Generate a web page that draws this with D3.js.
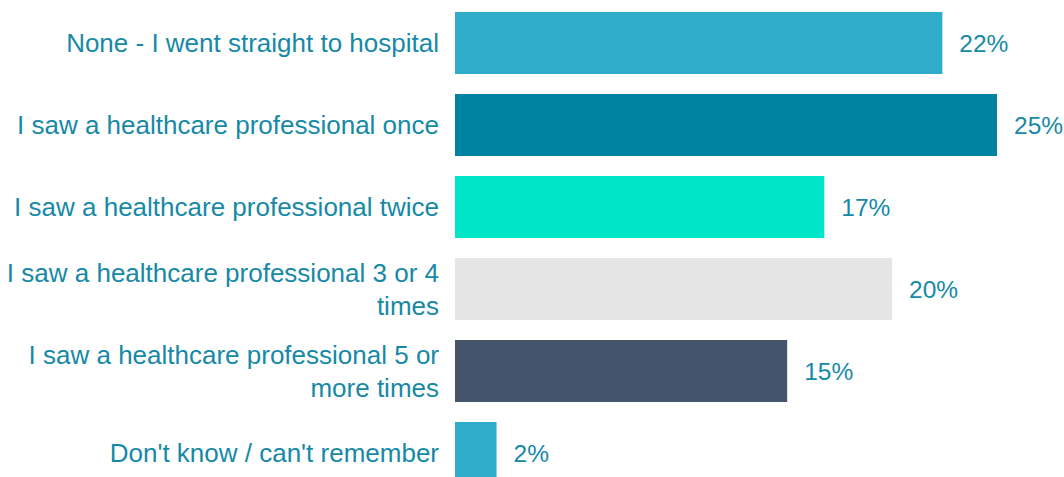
<!DOCTYPE html>
<html>
<head>
<meta charset="utf-8">
<script src="https://cdn.jsdelivr.net/npm/d3@7"></script>
<style>
  html, body { margin: 0; padding: 0; background: #fff; }
  svg { display: block; font-family: "Liberation Sans", Arial, sans-serif; }
</style>
</head>
<body>
<svg id="chart" width="1064" height="477"></svg>
<script>
const categories = [
  "None - I went straight to hospital",
  "I saw a healthcare professional once",
  "I saw a healthcare professional twice",
  "I saw a healthcare professional 3 or 4 times",
  "I saw a healthcare professional 5 or more times",
  "Don't know / can't remember"
];
const values = [22.3, 24.8, 16.9, 20.0, 15.2, 1.9];
const colors = ["#2eacc9", "#0083a3", "#00e5c8", "#e5e5e5", "#44546a", "#2eacc9"];

const W = 1064, H = 477;
const svg = d3.select("#chart");
const textColor = "#1689a7";

const x = d3.scaleLinear().domain([0, 24.8]).range([455, 997]);
const y = d3.scaleBand().domain(categories).range([2, 494])
  .paddingInner(20/82).paddingOuter(10/82);

const data = categories.map((c, i) => ({c, v: values[i], color: colors[i]}));

svg.selectAll("rect.bar").data(data).join("rect")
  .attr("class", "bar")
  .attr("x", x(0))
  .attr("y", d => y(d.c))
  .attr("width", d => x(d.v) - x(0))
  .attr("height", y.bandwidth())
  .attr("fill", d => d.color);

// value labels
svg.selectAll("text.val").data(data).join("text")
  .attr("class", "val")
  .attr("x", d => x(d.v) + 17)
  .attr("y", d => y(d.c) + y.bandwidth() / 2)
  .attr("dy", "0.36em")
  .attr("fill", textColor)
  .style("font-size", "24.5px")
  .text(d => Math.round(d.v) + "%");

// category labels with wrapping
const maxW = 442;
const lineH = 33;
const labels = svg.selectAll("text.cat").data(data).join("text")
  .attr("class", "cat")
  .attr("text-anchor", "end")
  .attr("fill", textColor)
  .style("font-size", "26px");

labels.each(function(d) {
  const t = d3.select(this);
  const words = d.c.split(" ");
  const lines = [];
  let cur = [];
  const probe = t.append("tspan");
  words.forEach(w => {
    const test = cur.concat([w]).join(" ");
    probe.text(test);
    if (probe.node().getComputedTextLength() > maxW && cur.length) {
      lines.push(cur.join(" "));
      cur = [w];
    } else {
      cur.push(w);
    }
  });
  if (cur.length) lines.push(cur.join(" "));
  probe.remove();
  const cy = y(d.c) + y.bandwidth() / 2;
  const first = cy - (lines.length - 1) * lineH / 2;
  lines.forEach((ln, i) => {
    t.append("tspan")
      .attr("x", 439)
      .attr("y", first + i * lineH)
      .attr("dy", "0.36em")
      .text(ln);
  });
});
</script>
</body>
</html>
